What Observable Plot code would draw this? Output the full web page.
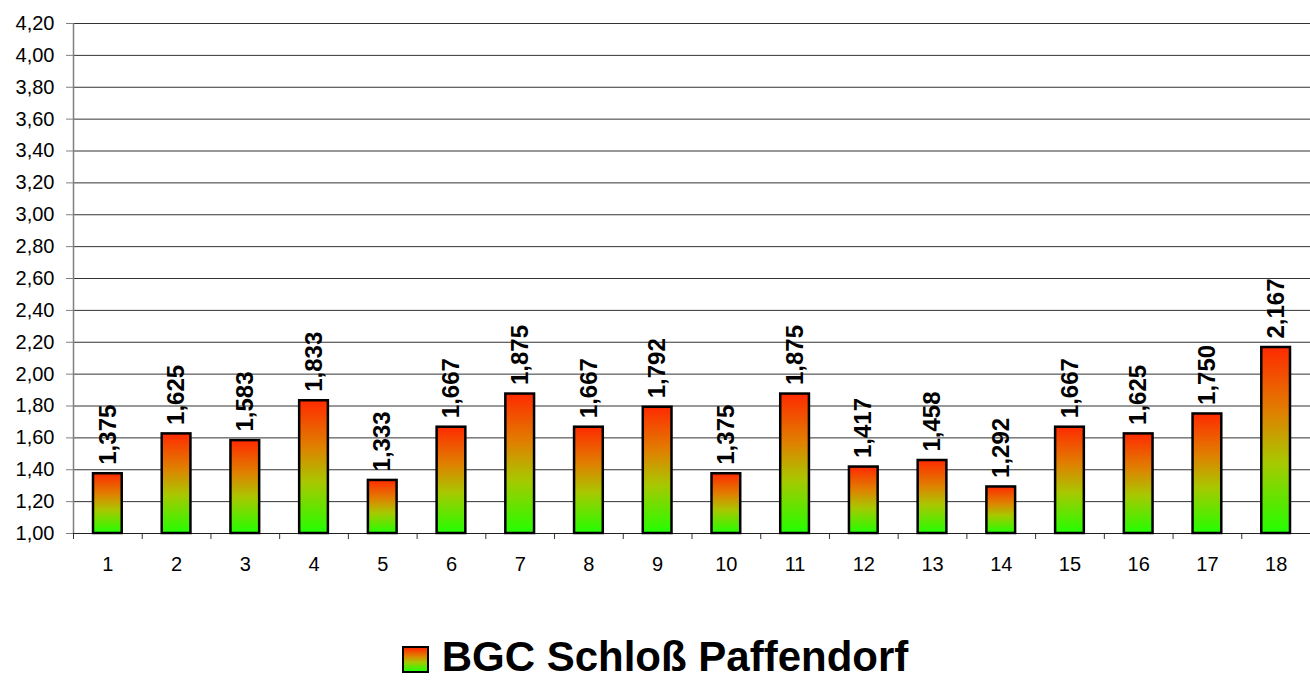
<!DOCTYPE html>
<html>
<head>
<meta charset="utf-8">
<script src="https://cdn.jsdelivr.net/npm/d3@7"></script>
<script src="https://cdn.jsdelivr.net/npm/@observablehq/plot@0.6"></script>
<style>
  html, body { margin: 0; padding: 0; background: #fff; }
  body { width: 1310px; height: 680px; overflow: hidden; font-family: "Liberation Sans", Arial, sans-serif; }
  #legend { display: flex; justify-content: center; align-items: center; height: 60px; margin-top: 27px; }
  #legend .sw { width: 23px; height: 23px; border: 2.5px solid #000; background: linear-gradient(to bottom, #ff2a00 0%, #e08000 35%, #a8c800 62%, #22ff00 100%); margin-right: 13px; margin-top: 4px; }
  #legend .lb { font-weight: bold; font-size: 42px; color: #000; line-height: 1; }
</style>
</head>
<body>
<div id="chart"></div>
<div id="legend"><div class="sw"></div><div class="lb" id="legendLabel"></div></div>
<script>
const categories = [1, 2, 3, 4, 5, 6, 7, 8, 9, 10, 11, 12, 13, 14, 15, 16, 17, 18];
const values = [1.375, 1.625, 1.583, 1.833, 1.333, 1.667, 1.875, 1.667, 1.792, 1.375, 1.875, 1.417, 1.458, 1.292, 1.667, 1.625, 1.750, 2.167];
const yTicks = [1.00, 1.20, 1.40, 1.60, 1.80, 2.00, 2.20, 2.40, 2.60, 2.80, 3.00, 3.20, 3.40, 3.60, 3.80, 4.00, 4.20];
const seriesName = "BGC Schloß Paffendorf";

document.getElementById("legendLabel").textContent = seriesName;

const data = categories.map((c, i) => ({cat: c, value: values[i]}));
const yMin = yTicks[0];
const yMax = yTicks[yTicks.length - 1];
const boundaries = [categories[0] - 0.5, ...categories.map(c => c + 0.5)];
const comma = (f) => (d) => d3.format(f)(d).replace(".", ",");

const defs = () => {
  const g = d3.create("svg:defs");
  const lg = g.append("linearGradient").attr("id", "barGrad").attr("x1", 0).attr("y1", 0).attr("x2", 0).attr("y2", 1);
  [[0, "#ff2a00"], [0.35, "#e08000"], [0.62, "#a8c800"], [1, "#22ff00"]].forEach(([o, c]) =>
    lg.append("stop").attr("offset", o).attr("stop-color", c));
  return g.node();
};

const chart = Plot.plot({
  width: 1310,
  height: 600,
  marginTop: 23,
  marginBottom: 67,
  marginLeft: 73,
  marginRight: 0,
  style: {fontFamily: '"Liberation Sans", Arial, sans-serif', fontSize: "20px", background: "#fff", color: "#000"},
  x: {type: "linear", domain: [boundaries[0], boundaries[boundaries.length - 1]]},
  y: {domain: [yMin, yMax]},
  marks: [
    defs,
    Plot.gridY(yTicks.slice(1), {stroke: "#333", strokeOpacity: 1, strokeWidth: 1}),
    Plot.axisY(yTicks, {tickSize: 7, tickPadding: 12, fontSize: 20, tickFormat: comma(".2f"), stroke: "#808080", label: null}),
    Plot.axisX(boundaries, {tickSize: 6, tickFormat: () => "", stroke: "#333", label: null}),
    Plot.axisX(categories, {tickSize: 0, tickPadding: 23, fontSize: 20, tickFormat: d => String(d), label: null}),
    Plot.ruleX([boundaries[0]], {stroke: "#808080", strokeWidth: 1.5}),
    Plot.ruleY([yMin], {stroke: "#222", strokeWidth: 1.2}),
    Plot.rect(data, {
      x1: d => d.cat - 0.5, x2: d => d.cat + 0.5, y1: d => yMin, y2: "value",
      insetLeft: 20, insetRight: 20,
      fill: "url(#barGrad)", stroke: "#000", strokeWidth: 2.5
    }),
    Plot.text(data, {
      x: "cat", y: "value", text: d => comma(".3f")(d.value),
      rotate: -90, textAnchor: "start", lineAnchor: "middle", dy: -9,
      fontSize: 24, fontWeight: "bold", fill: "#000"
    })
  ]
});
d3.select(chart).selectAll('g[aria-label="y-axis tick label"], g[aria-label="x-axis tick label"]')
  .attr("font-size", 20).style("font-size", "20px");
document.getElementById("chart").appendChild(chart);
</script>
</body>
</html>
